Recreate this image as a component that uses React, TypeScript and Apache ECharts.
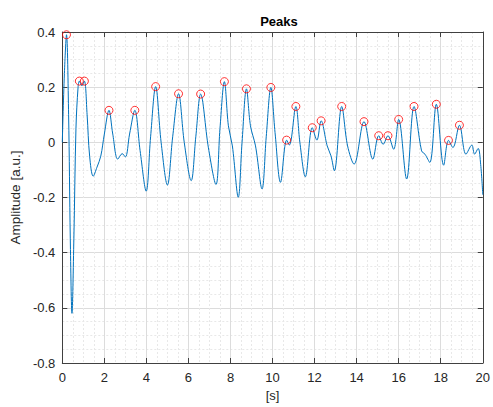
import React, { useEffect, useRef } from "react";
import * as echarts from "echarts";

const signalTime = [
  0.0, 0.1, 0.2, 0.3, 0.38, 0.46, 0.55, 0.65, 0.75, 0.81, 0.93, 1.05, 1.18, 1.3, 1.47, 1.65, 1.83, 2.0,
  2.22, 2.4, 2.64, 2.85, 3.0, 3.2, 3.45, 3.7, 3.99, 4.2, 4.44, 4.7, 5.0, 5.25, 5.53, 5.8, 6.13, 6.35,
  6.58, 6.95, 7.31, 7.5, 7.71, 7.9, 8.09, 8.37, 8.55, 8.76, 8.95, 9.19, 9.5, 9.7, 9.92, 10.12, 10.38,
  10.67, 10.8, 11.11, 11.3, 11.56, 11.89, 12.11, 12.31, 12.6, 12.78, 12.94, 13.29, 13.57, 13.88, 14.35,
  14.77, 15.05, 15.26, 15.49, 15.76, 16.0, 16.38, 16.73, 17.09, 17.25, 17.48, 17.79, 18.14, 18.37,
  18.58, 18.89, 19.2, 19.48, 19.61, 19.78, 19.9, 20.0,
];
const signalAmp = [
  0.0, 0.25, 0.39, 0.1, -0.35, -0.62, -0.35, 0.05, 0.2, 0.222, 0.205, 0.222, 0.1, -0.05, -0.123, -0.09,
  -0.05, 0.03, 0.116, 0.03, -0.061, -0.041, -0.053, 0.03, 0.116, -0.03, -0.177, 0.02, 0.202, 0.0, -0.155,
  0.02, 0.176, 0.0, -0.139, 0.02, 0.175, -0.02, -0.153, 0.05, 0.22, 0.06, -0.013, -0.199, 0.0, 0.194,
  0.06, -0.013, -0.169, 0.02, 0.199, 0.035, -0.145, 0.008, -0.01, 0.13, 0.0, -0.125, 0.053, 0.008, 0.078,
  -0.013, -0.049, -0.103, 0.13, -0.013, -0.079, 0.075, -0.061, 0.024, -0.007, 0.024, -0.025, 0.083,
  -0.133, 0.13, -0.031, -0.043, -0.073, 0.138, -0.083, 0.007, -0.019, 0.062, -0.043, -0.01, -0.043,
  -0.022, -0.08, -0.19,
];
const peakTime = [
  0.2, 0.81, 1.05, 2.22, 3.45, 4.44, 5.53, 6.58, 7.71, 8.76, 9.92, 10.67, 11.11, 11.89, 12.31, 13.29,
  14.35, 15.05, 15.49, 16.0, 16.73, 17.79, 18.37, 18.89,
];
const peakAmp = [
  0.39, 0.222, 0.222, 0.116, 0.116, 0.202, 0.176, 0.175, 0.22, 0.194, 0.199, 0.008, 0.13, 0.053, 0.078,
  0.13, 0.075, 0.024, 0.024, 0.083, 0.13, 0.138, 0.007, 0.062,
];

const xMin = 0, xMax = 20, xStep = 2;
const yMin = -0.8, yMax = 0.4, yStep = 0.2;

const FONT = "'Liberation Sans', Arial, Helvetica, sans-serif";
const TXT = "#262626";
const AX = "#404040";

export default function App() {
  const ref = useRef<HTMLDivElement>(null);
  useEffect(() => {
    if (!ref.current) return;
    const chart = echarts.init(ref.current, null, { renderer: "svg" });
    const axisCommon = {
      axisLine: { show: true, onZero: false, lineStyle: { color: AX, width: 1 } },
      axisTick: { show: true, inside: true, length: 5, lineStyle: { color: AX } },
    };
    chart.setOption({
      animation: false,
      backgroundColor: "#ffffff",
      title: {
        text: "Peaks",
        left: 274,
        textAlign: "center",
        top: 10,
        textStyle: { fontFamily: FONT, fontSize: 13, fontWeight: "bold", color: "#000" },
      },
      grid: { left: 61, right: 6, top: 32, bottom: 41, containLabel: false },
      xAxis: [
        {
          type: "value",
          min: xMin,
          max: xMax,
          interval: xStep,
          position: "bottom",
          ...axisCommon,
          axisLabel: { color: TXT, fontFamily: FONT, fontSize: 13, margin: 8 },
          splitLine: { show: true, lineStyle: { color: "#dcdcdc", width: 1 } },
          minorTick: { show: false, splitNumber: 4 },
          minorSplitLine: { show: true, lineStyle: { color: "#e8e8e8", type: [2, 2], width: 1 } },
          name: "[s]",
          nameLocation: "middle",
          nameGap: 26,
          nameTextStyle: { color: TXT, fontFamily: FONT, fontSize: 13 },
        },
        {
          type: "value",
          min: xMin,
          max: xMax,
          interval: xStep,
          position: "top",
          ...axisCommon,
          axisLabel: { show: false },
          splitLine: { show: false },
        },
      ],
      yAxis: [
        {
          type: "value",
          min: yMin,
          max: yMax,
          interval: yStep,
          position: "left",
          ...axisCommon,
          axisLabel: { color: TXT, fontFamily: FONT, fontSize: 13, margin: 7 },
          splitLine: { show: true, lineStyle: { color: "#dcdcdc", width: 1 } },
          minorTick: { show: false, splitNumber: 4 },
          minorSplitLine: { show: true, lineStyle: { color: "#e8e8e8", type: [2, 2], width: 1 } },
          name: "Amplitude [a.u.]",
          nameLocation: "middle",
          nameGap: 32,
          nameTextStyle: { color: TXT, fontFamily: FONT, fontSize: 13.5 },
        },
        {
          type: "value",
          min: yMin,
          max: yMax,
          interval: yStep,
          position: "right",
          ...axisCommon,
          axisLabel: { show: false },
          splitLine: { show: false },
        },
      ],
      series: [
        {
          type: "line",
          xAxisIndex: 0,
          yAxisIndex: 0,
          data: signalTime.map((t, i) => [t, signalAmp[i]]),
          smooth: 0.35,
          showSymbol: false,
          lineStyle: { color: "#0072BD", width: 1 },
          itemStyle: { color: "#0072BD" },
          z: 3,
        },
        {
          type: "scatter",
          xAxisIndex: 0,
          yAxisIndex: 0,
          data: peakTime.map((t, i) => [t, peakAmp[i]]),
          symbol: "circle",
          symbolSize: 8,
          itemStyle: { color: "rgba(0,0,0,0)", borderColor: "#ff0000", borderWidth: 1 },
          z: 4,
        },
      ],
    });
    return () => chart.dispose();
  }, []);
  return <div ref={ref} style={{ position: "fixed", left: 0, top: 0, width: 493, height: 407 }} />;
}
